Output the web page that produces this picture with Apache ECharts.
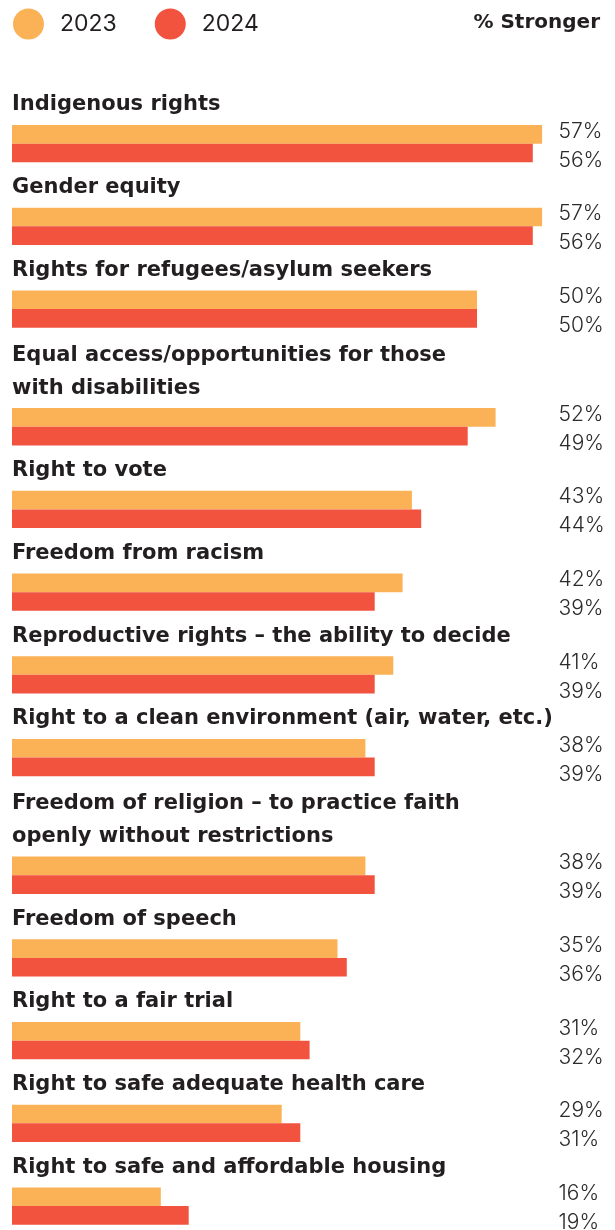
<!DOCTYPE html>
<html>
<head>
<meta charset="utf-8">
<script src="https://cdn.jsdelivr.net/npm/echarts@6/dist/echarts.min.js"></script>
<style>
  html, body { margin: 0; padding: 0; background: #ffffff; }
  #chart { width: 615px; height: 1230px; }
</style>
</head>
<body>
<div id="chart"></div>
<script>
// ---- Data ----
const categories = [
  'Indigenous rights',
  'Gender equity',
  'Rights for refugees/asylum seekers',
  'Equal access/opportunities for those\nwith disabilities',
  'Right to vote',
  'Freedom from racism',
  'Reproductive rights – the ability to decide',
  'Right to a clean environment (air, water, etc.)',
  'Freedom of religion – to practice faith\nopenly without restrictions',
  'Freedom of speech',
  'Right to a fair trial',
  'Right to safe adequate health care',
  'Right to safe and affordable housing'
];
const values2023 = [57, 57, 50, 52, 43, 42, 41, 38, 38, 35, 31, 29, 16];
const values2024 = [56, 56, 50, 49, 44, 39, 39, 39, 39, 36, 32, 31, 19];
const seriesNames = ['2023', '2024'];
const measureLabel = '% Stronger';

// ---- Styles / layout ----
const COLORS = ['#FBB257', '#F1533F'];
const FONT = 'Inter, "Noto Sans", sans-serif';
const TITLE_FONT = '"DejaVu Sans", sans-serif';
const CH = 1230;
const LEFT = 12;
const PX_PER_UNIT = 9.3;
const X_MAX = 60;
const BAR_H = 18.65;
const FIRST_TOP = 125;
const PITCH = 82.7;
const EXTRA_LINE = 35;
const LINE_H = 33;
const LABEL_X = 546.5;

const chart = echarts.init(document.getElementById('chart'), null, { renderer: 'canvas' });

const grids = [], xAxes = [], yAxes = [], series = [], titles = [];
let barTop = FIRST_TOP;
categories.forEach((cat, i) => {
  const lines = cat.split('\n').length;
  if (i > 0) barTop += PITCH + (lines - 1) * EXTRA_LINE;
  grids.push({ left: LEFT, top: barTop, width: X_MAX * PX_PER_UNIT, height: 2 * BAR_H, containLabel: false });
  xAxes.push({ type: 'value', gridIndex: i, min: 0, max: X_MAX, show: false });
  yAxes.push({ type: 'category', gridIndex: i, data: [cat], show: false, inverse: true });
  [values2023, values2024].forEach((arr, s) => {
    series.push({
      name: seriesNames[s],
      type: 'bar',
      xAxisIndex: i,
      yAxisIndex: i,
      data: [arr[i]],
      barGap: '0%',
      barCategoryGap: '0%',
      itemStyle: { color: COLORS[s] },
      silent: true,
      animation: false,
      label: {
        show: true,
        position: [LABEL_X, s === 0 ? 6.3 : 16.65],
        align: 'left',
        verticalAlign: 'middle',
        formatter: (p) => p.value + '%',
        fontFamily: FONT,
        fontSize: 21,
        fontWeight: 300,
        color: '#2b2b2b'
      }
    });
  });
  titles.push({
    text: cat,
    left: LEFT,
    bottom: CH - (barTop - 3.5),
    padding: 0,
    textStyle: {
      fontFamily: TITLE_FONT,
      fontSize: 21,
      fontWeight: 700,
      color: '#231f20',
      lineHeight: LINE_H
    }
  });
});

titles.push({
  text: measureLabel,
  right: 15,
  top: 13,
  padding: 0,
  textStyle: { fontFamily: TITLE_FONT, fontSize: 20, fontWeight: 700, color: '#231f20' }
});

chart.setOption({
  animation: false,
  backgroundColor: '#ffffff',
  color: COLORS,
  title: titles,
  legend: {
    data: seriesNames,
    left: 13,
    top: 8.5,
    padding: 0,
    icon: 'circle',
    itemWidth: 31,
    itemHeight: 31,
    itemGap: 38,
    selectedMode: false,
    textStyle: {
      fontFamily: FONT,
      fontSize: 23,
      fontWeight: 400,
      color: '#231f20',
      padding: [0, 0, 0, 11]
    }
  },
  grid: grids,
  xAxis: xAxes,
  yAxis: yAxes,
  series: series
});
</script>
</body>
</html>
